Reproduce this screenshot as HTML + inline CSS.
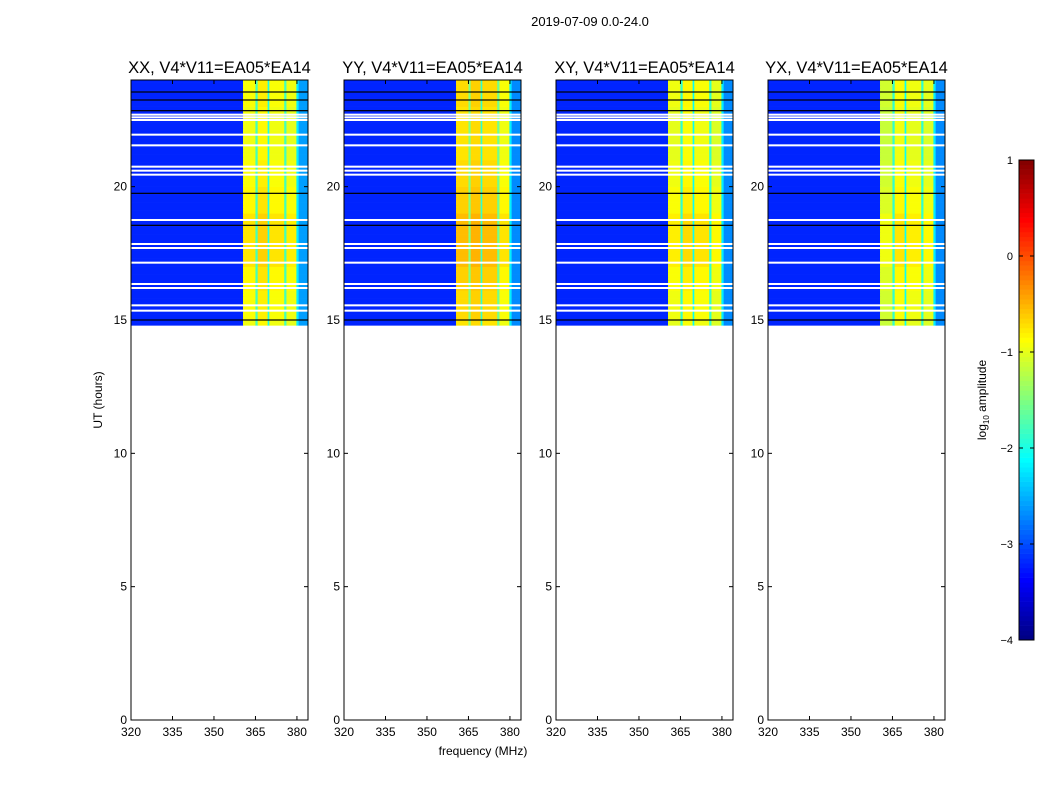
<!DOCTYPE html>
<html><head><meta charset="utf-8">
<style>
body{margin:0;background:#fff;width:1050px;height:800px;overflow:hidden;font-family:"Liberation Sans",sans-serif;}
svg text{font-family:"Liberation Sans",sans-serif;}
</style></head>
<body>
<svg id="fig" width="1050" height="800">
<text x="590" y="26" font-size="13" text-anchor="middle">2019-07-09 0.0-24.0</text>
<text x="483" y="755" font-size="12" text-anchor="middle">frequency (MHz)</text>
<text transform="translate(102,400) rotate(-90)" font-size="12" text-anchor="middle">UT (hours)</text>
</svg>
<script>
// ---- data ----
const panelTitles = ["XX, V4*V11=EA05*EA14","YY, V4*V11=EA05*EA14","XY, V4*V11=EA05*EA14","YX, V4*V11=EA05*EA14"];
const panelLeft = [131,344,556,768];
const xTicks = [320,335,350,365,380];
const yTicks = [0,5,10,15,20];
const cbTicks = [1,0,-1,-2,-3,-4];
const dataStart = 14.8, dataEnd = 24;
// spectral segments [startMHz, endMHz, log10 amplitude]
const specXX = [[320,360.5,-3.2],[360.5,365,-1.0],[365,365.8,-1.8],[365.8,369.4,-0.9],[369.4,370,-2.0],[370,375.4,-1.0],[375.4,376.2,-1.8],[376.2,379.8,-1.05],[379.8,380.6,-2.2],[380.6,384,-2.6]];
const specYY = [[320,360.5,-3.2],[360.5,365,-0.8],[365,365.8,-1.5],[365.8,369.4,-0.75],[369.4,370,-1.9],[370,375.4,-0.8],[375.4,376.2,-1.6],[376.2,379.8,-1.0],[379.8,380.6,-2.2],[380.6,384,-2.7]];
const specXY = [[320,360.5,-3.2],[360.5,365,-1.05],[365,365.8,-1.9],[365.8,369.4,-0.95],[369.4,370,-2.1],[370,375.4,-1.0],[375.4,376.2,-1.9],[376.2,379.8,-1.1],[379.8,380.6,-2.2],[380.6,384,-2.7]];
const specYX = [[320,360.5,-3.2],[360.5,365,-1.2],[365,365.8,-1.9],[365.8,369.4,-1.0],[369.4,370,-2.1],[370,375.4,-1.05],[375.4,376.2,-1.9],[376.2,379.8,-1.1],[379.8,380.6,-2.2],[380.6,384,-2.7]];
const spectra = [specXX,specYY,specXY,specYX];
// hourly boost of band brightness, hours 14..23
const hourBoost = [0.05,0.1,0.15,0.25,0.25,0.15,0.1,0.05,0.05,0.1];
// flagged rows (hours) drawn white, black rows
const whiteRows = [22.5,22.6,22.7,21.95,21.55,20.75,20.6,20.45,18.75,17.85,17.7,17.15,16.35,16.2,15.55,15.35];
const blackRows = [23.55,23.25,22.85,19.75,18.55,15.0];
// ---- axes ----
const ns="http://www.w3.org/2000/svg";
const fig=document.getElementById('fig');
const plotTop=80,plotBot=720,pw=177,cbTop=160,cbBot=640;
const fx=(f,l)=>l+(f-320)/64*pw;
const ty=t=>plotBot-(t/24)*(plotBot-plotTop);
const cy=v=>cbBot-(v+4)/5*(cbBot-cbTop);
function jet(v){let t=(v+4)/5;t=Math.max(0,Math.min(1,t));
 const r=Math.max(0,Math.min(1,1.5-Math.abs(4*t-3))),g=Math.max(0,Math.min(1,1.5-Math.abs(4*t-2))),b=Math.max(0,Math.min(1,1.5-Math.abs(4*t-1)));
 return `rgb(${Math.round(r*255)},${Math.round(g*255)},${Math.round(b*255)})`;}
function mk(tag,attrs,parent){const e=document.createElementNS(ns,tag);for(const k in attrs)e.setAttribute(k,attrs[k]);(parent||fig).appendChild(e);return e;}
const rowH=0.1;
spectra.forEach((spec,p)=>{
 const l=panelLeft[p];
 const g=mk('g',{});
 
 
 for(let t=dataStart;t<dataEnd-1e-6;t+=rowH){
  const hb=hourBoost[Math.min(hourBoost.length-1,Math.max(0,Math.floor(t)-14))];
  spec.forEach(s=>{
   const v=s[2]>-1.5?s[2]+hb:s[2];
   const r=mk('rect',{x:fx(s[0],l),y:ty(t+rowH),width:fx(s[1],l)-fx(s[0],l)+0.3,height:ty(t)-ty(t+rowH)+0.3,fill:jet(v)},g);
   
   
  });
 }
 whiteRows.forEach(h=>{const r=mk('rect',{x:l,y:ty(h)-1,width:pw,height:2,fill:'#fff'},g);
  });
 blackRows.forEach(h=>{const r=mk('rect',{x:l,y:ty(h)-0.6,width:pw,height:1.2,fill:'#000'},g);
  });
 const fr=mk('rect',{x:l,y:plotTop,width:pw,height:plotBot-plotTop,fill:'none',stroke:'#000','stroke-width':1});
 
 const tt=mk('text',{x:l+pw/2,y:73,'font-size':16.5,'text-anchor':'middle'});tt.textContent=panelTitles[p];
 
 xTicks.forEach(f=>{const x=fx(f,l);
  mk('line',{x1:x,x2:x,y1:plotBot,y2:plotBot-4,stroke:'#000'});mk('line',{x1:x,x2:x,y1:plotTop,y2:plotTop+4,stroke:'#000'});
  const tx=mk('text',{x:x,y:plotBot+16,'font-size':12,'text-anchor':'middle'});tx.textContent=f;
  });
 yTicks.forEach(h=>{const y=ty(h);
  mk('line',{x1:l,x2:l+4,y1:y,y2:y,stroke:'#000'});mk('line',{x1:l+pw,x2:l+pw-4,y1:y,y2:y,stroke:'#000'});
  const tx=mk('text',{x:l-4,y:y+4,'font-size':12,'text-anchor':'end'});tx.textContent=h;
  });
});
// colorbar
const cb=mk('g',{});


for(let i=0;i<100;i++){const v=-4+i*0.05;mk('rect',{x:1019,y:cy(v+0.05),width:15,height:cy(v)-cy(v+0.05)+0.3,fill:jet(v+0.025)},cb);}
mk('rect',{x:1019,y:cbTop,width:15,height:cbBot-cbTop,fill:'none',stroke:'#000'},cb);
cbTicks.forEach(v=>{const y=cy(v);
 mk('line',{x1:1019,x2:1023,y1:y,y2:y,stroke:'#000'},cb);mk('line',{x1:1034,x2:1030,y1:y,y2:y,stroke:'#000'},cb);
 const tx=mk('text',{x:1013,y:y+4,'font-size':11,'text-anchor':'end'},cb);tx.textContent=v<0?'\u2212'+(-v):v;
 });
const cl=mk('text',{transform:'translate(986,400) rotate(-90)','font-size':12,'text-anchor':'middle'});
cl.innerHTML='log<tspan font-size="8" dy="3">10</tspan><tspan dy="-3"> amplitude</tspan>';

</script>
</body></html>
